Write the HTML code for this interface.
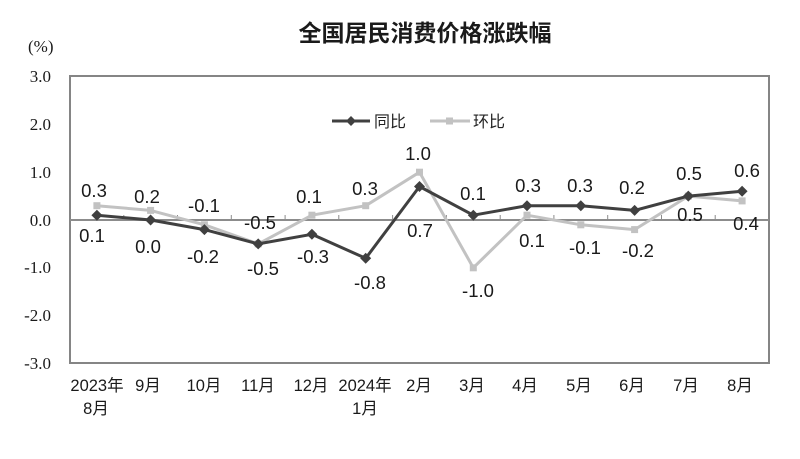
<!DOCTYPE html>
<html><head><meta charset="utf-8"><style>
html,body{margin:0;padding:0;background:#fff;}
svg{display:block;}
.t{font-family:"Liberation Sans","Noto Sans CJK SC",sans-serif;font-size:18.5px;fill:#1a1a1a;text-anchor:middle;}
.y{font-family:"Liberation Serif","Noto Serif CJK SC",serif;font-size:17px;fill:#1a1a1a;text-anchor:end;}
.x{font-family:"Liberation Sans","Noto Sans CJK SC",sans-serif;font-size:16.5px;fill:#1a1a1a;text-anchor:middle;}
</style></head><body>
<svg width="800" height="459" viewBox="0 0 800 459" xmlns="http://www.w3.org/2000/svg">
<rect width="800" height="459" fill="#fff"/>
<text x="425" y="41" style="font-family:'Noto Sans CJK SC',sans-serif;font-size:23px;font-weight:bold;fill:#1a1a1a;text-anchor:middle">全国居民消费价格涨跌幅</text>
<text x="28" y="52" style="font-family:'Liberation Serif',serif;font-size:17px;fill:#1a1a1a">(%)</text>
<!-- y labels -->
<text class="y" x="51" y="82">3.0</text>
<text class="y" x="51" y="130">2.0</text>
<text class="y" x="51" y="178">1.0</text>
<text class="y" x="51" y="226">0.0</text>
<text class="y" x="51" y="273">-1.0</text>
<text class="y" x="51" y="321">-2.0</text>
<text class="y" x="51" y="369">-3.0</text>
<!-- frame -->
<rect x="70" y="76" width="699" height="287" fill="none" stroke="#858585" stroke-width="2"/>
<!-- zero line -->
<line x1="70" y1="220" x2="769" y2="220" stroke="#8c8c8c" stroke-width="2"/>
<g stroke="#8c8c8c" stroke-width="1">
<line x1="123.8" y1="215" x2="123.8" y2="220"/><line x1="177.5" y1="215" x2="177.5" y2="220"/>
<line x1="231.3" y1="215" x2="231.3" y2="220"/><line x1="285.1" y1="215" x2="285.1" y2="220"/>
<line x1="338.8" y1="215" x2="338.8" y2="220"/><line x1="392.6" y1="215" x2="392.6" y2="220"/>
<line x1="446.4" y1="215" x2="446.4" y2="220"/><line x1="500.2" y1="215" x2="500.2" y2="220"/>
<line x1="553.9" y1="215" x2="553.9" y2="220"/><line x1="607.7" y1="215" x2="607.7" y2="220"/>
<line x1="661.5" y1="215" x2="661.5" y2="220"/><line x1="715.2" y1="215" x2="715.2" y2="220"/>
</g>
<!-- 环比 series -->
<polyline fill="none" stroke="#c2c2c2" stroke-width="3" stroke-linejoin="round"
points="96.9,205.7 150.6,210.4 204.4,224.8 258.2,243.9 311.9,215.2 365.7,205.7 419.5,172.2 473.3,267.8 527.0,215.2 580.8,224.8 634.6,229.6 688.3,196.1 742.1,200.9"/>
<g fill="#c2c2c2">
<rect x="93.4" y="202.2" width="7" height="7"/><rect x="147.1" y="206.9" width="7" height="7"/>
<rect x="200.9" y="221.3" width="7" height="7"/><rect x="254.7" y="240.4" width="7" height="7"/>
<rect x="308.4" y="211.7" width="7" height="7"/><rect x="362.2" y="202.2" width="7" height="7"/>
<rect x="416" y="168.7" width="7" height="7"/><rect x="469.8" y="264.3" width="7" height="7"/>
<rect x="523.5" y="211.7" width="7" height="7"/><rect x="577.3" y="221.3" width="7" height="7"/>
<rect x="631.1" y="226.1" width="7" height="7"/><rect x="684.8" y="192.6" width="7" height="7"/>
<rect x="738.6" y="197.4" width="7" height="7"/>
</g>
<!-- 同比 series -->
<polyline fill="none" stroke="#404040" stroke-width="3" stroke-linejoin="round"
points="96.9,215.2 150.6,220 204.4,229.6 258.2,243.9 311.9,234.3 365.7,258.3 419.5,186.5 473.3,215.2 527.0,205.7 580.8,205.7 634.6,210.4 688.3,196.1 742.1,191.3"/>
<g fill="#404040">
<path d="M96.9,209.7l5.5,5.5l-5.5,5.5l-5.5,-5.5z"/>
<path d="M150.6,214.5l5.5,5.5l-5.5,5.5l-5.5,-5.5z"/>
<path d="M204.4,224.1l5.5,5.5l-5.5,5.5l-5.5,-5.5z"/>
<path d="M258.2,238.4l5.5,5.5l-5.5,5.5l-5.5,-5.5z"/>
<path d="M311.9,228.8l5.5,5.5l-5.5,5.5l-5.5,-5.5z"/>
<path d="M365.7,252.8l5.5,5.5l-5.5,5.5l-5.5,-5.5z"/>
<path d="M419.5,181l5.5,5.5l-5.5,5.5l-5.5,-5.5z"/>
<path d="M473.3,209.7l5.5,5.5l-5.5,5.5l-5.5,-5.5z"/>
<path d="M527,200.2l5.5,5.5l-5.5,5.5l-5.5,-5.5z"/>
<path d="M580.8,200.2l5.5,5.5l-5.5,5.5l-5.5,-5.5z"/>
<path d="M634.6,204.9l5.5,5.5l-5.5,5.5l-5.5,-5.5z"/>
<path d="M688.3,190.6l5.5,5.5l-5.5,5.5l-5.5,-5.5z"/>
<path d="M742.1,185.8l5.5,5.5l-5.5,5.5l-5.5,-5.5z"/>
</g>
<!-- legend -->
<line x1="332" y1="121" x2="370" y2="121" stroke="#404040" stroke-width="3"/>
<path d="M351,116l5,5l-5,5l-5,-5z" fill="#404040"/>
<text x="374" y="127" style="font-family:'Noto Sans CJK SC',sans-serif;font-size:16px;fill:#222">同比</text>
<line x1="430" y1="121" x2="470" y2="121" stroke="#c2c2c2" stroke-width="3"/>
<rect x="446" y="117.5" width="7" height="7" fill="#c2c2c2"/>
<text x="473" y="127" style="font-family:'Noto Sans CJK SC',sans-serif;font-size:16px;fill:#222">环比</text>
<!-- data labels -->
<text class="t" x="94" y="197">0.3</text>
<text class="t" x="92" y="242">0.1</text>
<text class="t" x="147" y="203">0.2</text>
<text class="t" x="148" y="253">0.0</text>
<text class="t" x="204" y="212">-0.1</text>
<text class="t" x="203" y="263">-0.2</text>
<text class="t" x="260" y="229">-0.5</text>
<text class="t" x="263" y="275">-0.5</text>
<text class="t" x="309" y="203">0.1</text>
<text class="t" x="313" y="263">-0.3</text>
<text class="t" x="365" y="195">0.3</text>
<text class="t" x="370" y="289">-0.8</text>
<text class="t" x="418" y="160">1.0</text>
<text class="t" x="420" y="237">0.7</text>
<text class="t" x="473" y="200">0.1</text>
<text class="t" x="478" y="297">-1.0</text>
<text class="t" x="528" y="192">0.3</text>
<text class="t" x="532" y="247">0.1</text>
<text class="t" x="580" y="192">0.3</text>
<text class="t" x="585" y="254">-0.1</text>
<text class="t" x="632" y="194">0.2</text>
<text class="t" x="638" y="257">-0.2</text>
<text class="t" x="689" y="180">0.5</text>
<text class="t" x="690" y="221">0.5</text>
<text class="t" x="747" y="177">0.6</text>
<text class="t" x="746" y="230">0.4</text>
<!-- x labels -->
<text class="x" x="97" y="391">2023年</text>
<text class="x" x="96" y="414">8月</text>
<text class="x" x="148" y="391">9月</text>
<text class="x" x="204" y="391">10月</text>
<text class="x" x="258" y="391">11月</text>
<text class="x" x="311" y="391">12月</text>
<text class="x" x="365" y="391">2024年</text>
<text class="x" x="365" y="414">1月</text>
<text class="x" x="419" y="391">2月</text>
<text class="x" x="472" y="391">3月</text>
<text class="x" x="525" y="391">4月</text>
<text class="x" x="579" y="391">5月</text>
<text class="x" x="632" y="391">6月</text>
<text class="x" x="686" y="391">7月</text>
<text class="x" x="740" y="391">8月</text>
</svg>
</body></html>
